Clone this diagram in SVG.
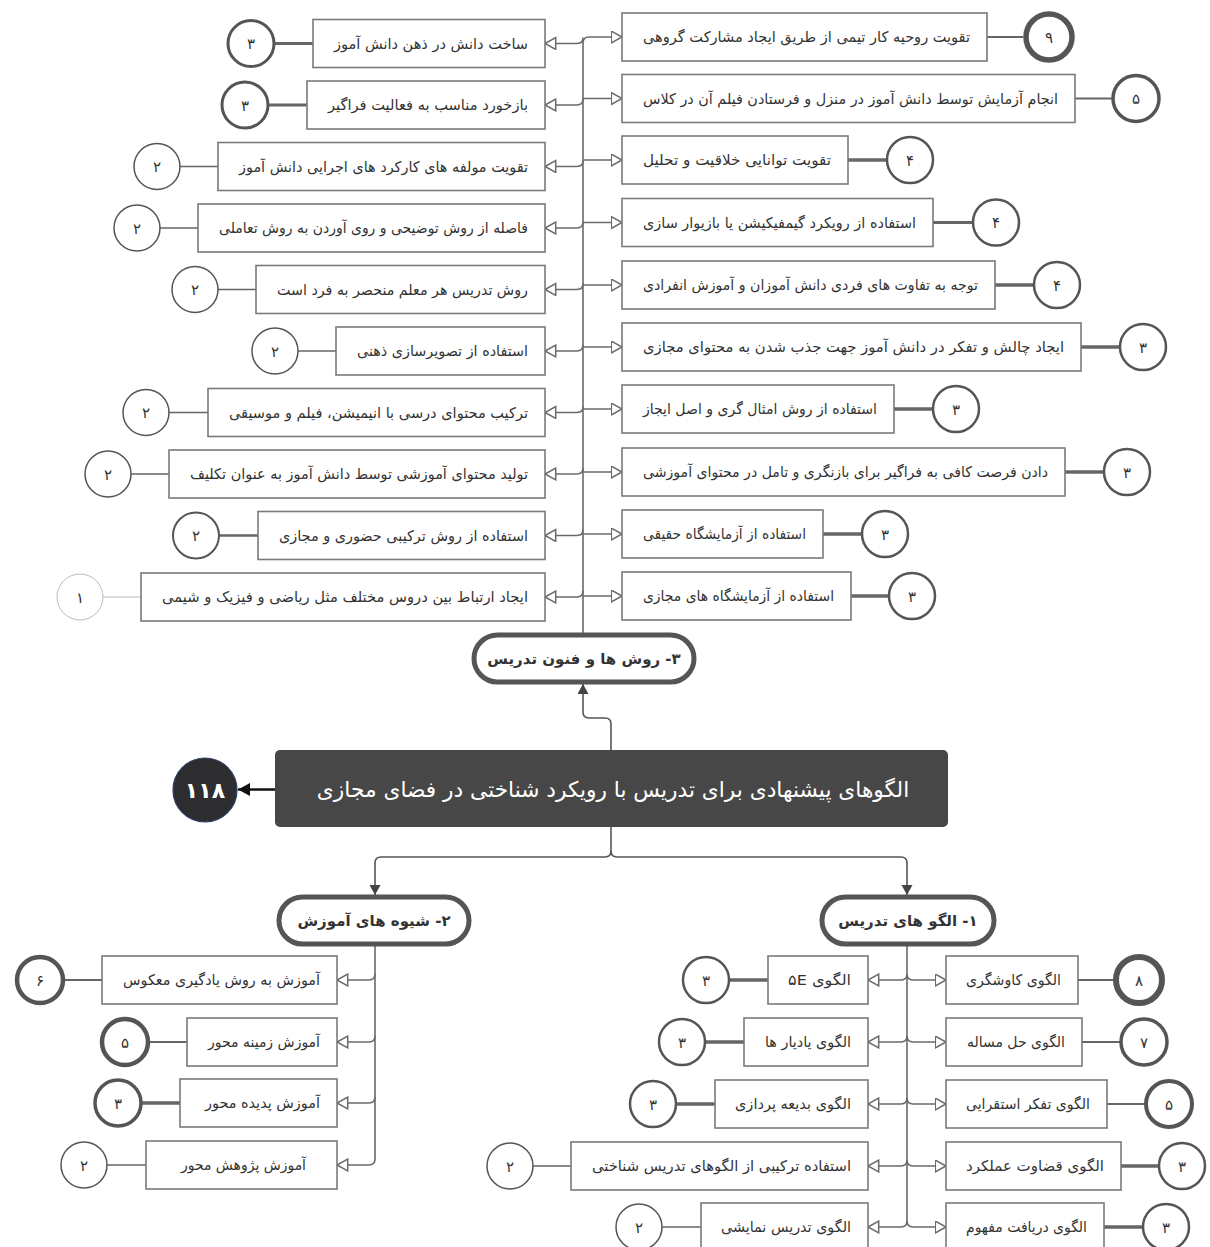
<svg xmlns="http://www.w3.org/2000/svg" width="1210" height="1247" viewBox="0 0 1210 1247">
<style>
.bg{fill:#ffffff}
.box{fill:#ffffff;stroke:#7a7a7a;stroke-width:1.6}
.t{font-family:"DejaVu Sans",sans-serif;font-size:14.7px;fill:#333333;direction:rtl;text-anchor:start}
.num{font-family:"DejaVu Sans",sans-serif;font-size:15px;fill:#333333;text-anchor:middle}
.c{fill:#ffffff;stroke:#555555}
.cl{stroke:#666666;fill:none}
.br{stroke:#6a6a6a;stroke-width:1.6;fill:none;marker-end:url(#open)}
.main{stroke:#555555;stroke-width:1.6;fill:none;marker-end:url(#solid)}
.pill{fill:#ffffff;stroke:#555555;stroke-width:5}
.pt{font-family:"DejaVu Sans",sans-serif;font-size:15px;font-weight:bold;fill:#333333;direction:rtl;text-anchor:middle}
</style>
<defs>
<marker id="open" markerUnits="userSpaceOnUse" markerWidth="14" markerHeight="14" refX="11.5" refY="6.5" orient="auto" viewBox="0 0 14 14">
<path d="M0.8,0.6 L11.5,6.5 L0.8,12.4 z" fill="#ffffff" stroke="#6a6a6a" stroke-width="1.5"/>
</marker>
<marker id="solid" markerUnits="userSpaceOnUse" markerWidth="12" markerHeight="12" refX="10" refY="5.5" orient="auto" viewBox="0 0 12 12">
<path d="M0,0 L10,5.5 L0,11 z" fill="#444444"/>
</marker>
<marker id="solidk" markerUnits="userSpaceOnUse" markerWidth="14" markerHeight="14" refX="12" refY="6.5" orient="auto" viewBox="0 0 14 14">
<path d="M0,0 L12,6.5 L0,13 z" fill="#111111"/>
</marker>
</defs>
<rect class="bg" x="0" y="0" width="1210" height="1247"/>

<g id="connectors">
<path class="br" d="M583,633 V43 Q583,37 589,37 H622"/>
<path class="br" d="M583,98.5 H622"/>
<path class="br" d="M583,160 H622"/>
<path class="br" d="M583,222.5 H622"/>
<path class="br" d="M583,285 H622"/>
<path class="br" d="M583,347 H622"/>
<path class="br" d="M583,409 H622"/>
<path class="br" d="M583,472 H622"/>
<path class="br" d="M583,534 H622"/>
<path class="br" d="M583,596 H622"/>
<path class="br" d="M583,37.5 Q583,43.5 577,43.5 H545"/>
<path class="br" d="M583,99 Q583,105 577,105 H545"/>
<path class="br" d="M583,160.5 Q583,166.5 577,166.5 H545"/>
<path class="br" d="M583,222 Q583,228 577,228 H545"/>
<path class="br" d="M583,283.5 Q583,289.5 577,289.5 H545"/>
<path class="br" d="M583,345 Q583,351 577,351 H545"/>
<path class="br" d="M583,406.5 Q583,412.5 577,412.5 H545"/>
<path class="br" d="M583,468 Q583,474 577,474 H545"/>
<path class="br" d="M583,529.5 Q583,535.5 577,535.5 H545"/>
<path class="br" d="M583,591 Q583,597 577,597 H545"/>
<path class="main" d="M611,750 V724 Q611,718 605,718 H589 Q583,718 583,712 V684"/>
<path d="M275,789.5 H238" stroke="#111111" stroke-width="2.5" fill="none" marker-end="url(#solidk)"/>
<path class="main" d="M611,827 V851 Q611,857 605,857 H381 Q375,857 375,863 V895"/>
<path class="main" d="M611,851 Q611,857 617,857 H901 Q907,857 907,863 V895"/>
<path class="br" d="M375,945 V1159 Q375,1165 369,1165 H337"/>
<path class="br" d="M375,974 Q375,980 369,980 H337"/>
<path class="br" d="M375,1036 Q375,1042 369,1042 H337"/>
<path class="br" d="M375,1097 Q375,1103 369,1103 H337"/>
<path class="br" d="M907,945 V1221 Q907,1227 901,1227 H868"/>
<path class="br" d="M907,974 Q907,980 901,980 H868"/>
<path class="br" d="M907,1036 Q907,1042 901,1042 H868"/>
<path class="br" d="M907,1098 Q907,1104 901,1104 H868"/>
<path class="br" d="M907,1160 Q907,1166 901,1166 H868"/>
<path class="br" d="M907,974 Q907,980 913,980 H946"/>
<path class="br" d="M907,1036 Q907,1042 913,1042 H946"/>
<path class="br" d="M907,1098 Q907,1104 913,1104 H946"/>
<path class="br" d="M907,1160 Q907,1166 913,1166 H946"/>
<path class="br" d="M907,1221 Q907,1227 913,1227 H946"/>
</g>

<g id="n-center">
<rect x="275" y="750" width="673" height="77" rx="5" fill="#474747"/>
<text x="613" y="797" font-family="DejaVu Sans,sans-serif" font-size="21.7" fill="#ffffff" text-anchor="middle" style="direction:rtl">الگوهای پیشنهادی برای تدریس با رویکرد شناختی در فضای مجازی</text>
</g>
<g id="n-total">
<circle cx="205" cy="790" r="32" fill="#2d2d2f" stroke="#2c3e66" stroke-width="1.2"/>
<text x="205" y="798" font-family="DejaVu Sans,sans-serif" font-size="22" font-weight="bold" fill="#ffffff" text-anchor="middle">۱۱۸</text>
</g>

<g id="n3">
<rect class="pill" x="474" y="635" width="220" height="47" rx="23.5"/>
<text class="pt" x="584" y="664">۳- روش ها و فنون تدریس</text>
</g>
<g id="n2">
<rect class="pill" x="279" y="897" width="190" height="47" rx="23.5"/>
<text class="pt" x="374" y="926">۲- شیوه های آموزش</text>
</g>
<g id="n1">
<rect class="pill" x="822" y="897" width="172" height="47" rx="23.5"/>
<text class="pt" x="908" y="926">۱- الگو های تدریس</text>
</g>

<g id="tl1"><line class="cl" x1="274" y1="43.5" x2="313" y2="43.5" stroke-width="3"/><circle class="c" cx="251" cy="43.5" r="23" stroke-width="3"/><text class="num" x="251" y="49">۳</text><rect class="box" x="313" y="19.5" width="232" height="48"/><text class="t" x="528" y="48.5" textLength="194" lengthAdjust="spacingAndGlyphs">ساخت دانش در ذهن دانش آموز</text></g>
<g id="tl2"><line class="cl" x1="268" y1="105" x2="307" y2="105" stroke-width="3"/><circle class="c" cx="245" cy="105" r="23" stroke-width="3"/><text class="num" x="245" y="110.5">۳</text><rect class="box" x="307" y="81" width="238" height="48"/><text class="t" x="528" y="110" textLength="200" lengthAdjust="spacingAndGlyphs">بازخورد مناسب  به فعالیت فراگیر</text></g>
<g id="tl3"><line class="cl" x1="180" y1="166.5" x2="218" y2="166.5" stroke-width="1.5"/><circle class="c" cx="157" cy="166.5" r="23" stroke-width="1.5"/><text class="num" x="157" y="172">۲</text><rect class="box" x="218" y="142.5" width="327" height="48"/><text class="t" x="528" y="171.5" textLength="289" lengthAdjust="spacingAndGlyphs">تقویت مولفه های کارکرد های اجرایی دانش آموز</text></g>
<g id="tl4"><line class="cl" x1="160" y1="228" x2="198" y2="228" stroke-width="1.5"/><circle class="c" cx="137" cy="228" r="23" stroke-width="1.5"/><text class="num" x="137" y="233.5">۲</text><rect class="box" x="198" y="204" width="347" height="48"/><text class="t" x="528" y="233" textLength="309" lengthAdjust="spacingAndGlyphs">فاصله از روش توضیحی و روی آوردن به روش تعاملی</text></g>
<g id="tl5"><line class="cl" x1="218" y1="289.5" x2="256" y2="289.5" stroke-width="1.5"/><circle class="c" cx="195" cy="289.5" r="23" stroke-width="1.5"/><text class="num" x="195" y="295">۲</text><rect class="box" x="256" y="265.5" width="289" height="48"/><text class="t" x="528" y="294.5" textLength="251" lengthAdjust="spacingAndGlyphs">روش تدریس هر معلم منحصر به فرد است</text></g>
<g id="tl6"><line class="cl" x1="298" y1="351" x2="336" y2="351" stroke-width="1.5"/><circle class="c" cx="275" cy="351" r="23" stroke-width="1.5"/><text class="num" x="275" y="356.5">۲</text><rect class="box" x="336" y="327" width="209" height="48"/><text class="t" x="528" y="356" textLength="171" lengthAdjust="spacingAndGlyphs">استفاده از تصویرسازی ذهنی</text></g>
<g id="tl7"><line class="cl" x1="169" y1="412.5" x2="208" y2="412.5" stroke-width="1.5"/><circle class="c" cx="146" cy="412.5" r="23" stroke-width="1.5"/><text class="num" x="146" y="418">۲</text><rect class="box" x="208" y="388.5" width="337" height="48"/><text class="t" x="528" y="417.5" textLength="299" lengthAdjust="spacingAndGlyphs">ترکیب محتوای درسی با انیمیشن، فیلم و موسیقی</text></g>
<g id="tl8"><line class="cl" x1="131" y1="474" x2="169" y2="474" stroke-width="1.5"/><circle class="c" cx="108" cy="474" r="23" stroke-width="1.5"/><text class="num" x="108" y="479.5">۲</text><rect class="box" x="169" y="450" width="376" height="48"/><text class="t" x="528" y="479" textLength="338" lengthAdjust="spacingAndGlyphs">تولید محتوای آموزشی توسط دانش آموز به عنوان تکلیف</text></g>
<g id="tl9"><line class="cl" x1="219" y1="535.5" x2="258" y2="535.5" stroke-width="2.5"/><circle class="c" cx="196" cy="535.5" r="23" stroke-width="2"/><text class="num" x="196" y="541">۲</text><rect class="box" x="258" y="511.5" width="287" height="48"/><text class="t" x="528" y="540.5" textLength="249" lengthAdjust="spacingAndGlyphs">استفاده از روش ترکیبی حضوری و مجازی</text></g>
<g id="tl10"><line x1="103" y1="597" x2="141" y2="597" stroke="#bbbbbb" stroke-width="1"/><circle cx="80" cy="597" r="23" fill="#ffffff" stroke="#bbbbbb" stroke-width="1"/><text class="num" x="80" y="602.5">۱</text><rect class="box" x="141" y="573" width="404" height="48"/><text class="t" x="528" y="602" textLength="366" lengthAdjust="spacingAndGlyphs">ایجاد ارتباط بین دروس مختلف مثل ریاضی و فیزیک و شیمی</text></g>

<g id="tr1"><line class="cl" x1="987" y1="37" x2="1023" y2="37" stroke-width="2"/><circle class="c" cx="1049" cy="37" r="23" stroke-width="5.5"/><text class="num" x="1049" y="42.5">۹</text><rect class="box" x="622" y="13" width="365" height="48"/><text class="t" x="970" y="42" textLength="327" lengthAdjust="spacingAndGlyphs">تقویت روحیه کار تیمی از طریق ایجاد مشارکت گروهی</text></g>
<g id="tr2"><line class="cl" x1="1075" y1="98.5" x2="1113" y2="98.5" stroke-width="2"/><circle class="c" cx="1136" cy="98.5" r="23" stroke-width="3.5"/><text class="num" x="1136" y="104">۵</text><rect class="box" x="622" y="74.5" width="453" height="48"/><text class="t" x="1058" y="103.5" textLength="415" lengthAdjust="spacingAndGlyphs">انجام آزمایش توسط دانش آموز در منزل و فرستادن فیلم آن در کلاس</text></g>
<g id="tr3"><line class="cl" x1="848" y1="160" x2="887" y2="160" stroke-width="3.5"/><circle class="c" cx="910" cy="160" r="23" stroke-width="2.5"/><text class="num" x="910" y="165.5">۴</text><rect class="box" x="622" y="136" width="226" height="48"/><text class="t" x="831" y="165" textLength="188" lengthAdjust="spacingAndGlyphs">تقویت توانایی خلاقیت و تحلیل</text></g>
<g id="tr4"><line class="cl" x1="933" y1="222.5" x2="973" y2="222.5" stroke-width="3"/><circle class="c" cx="996" cy="222.5" r="23" stroke-width="2.5"/><text class="num" x="996" y="228">۴</text><rect class="box" x="622" y="198.5" width="311" height="48"/><text class="t" x="916" y="227.5" textLength="273" lengthAdjust="spacingAndGlyphs">استفاده از رویکرد گیمفیکیشن یا بازیوار سازی</text></g>
<g id="tr5"><line class="cl" x1="995" y1="285" x2="1034" y2="285" stroke-width="3.5"/><circle class="c" cx="1057" cy="285" r="23" stroke-width="2.5"/><text class="num" x="1057" y="290.5">۴</text><rect class="box" x="622" y="261" width="373" height="48"/><text class="t" x="978" y="290" textLength="335" lengthAdjust="spacingAndGlyphs">توجه به تفاوت های فردی دانش آموزان و آموزش انفرادی</text></g>
<g id="tr6"><line class="cl" x1="1081" y1="347" x2="1120" y2="347" stroke-width="3.5"/><circle class="c" cx="1143" cy="347" r="23" stroke-width="2.5"/><text class="num" x="1143" y="352.5">۳</text><rect class="box" x="622" y="323" width="459" height="48"/><text class="t" x="1064" y="352" textLength="421" lengthAdjust="spacingAndGlyphs">ایجاد چالش و تفکر در دانش آموز جهت جذب شدن به محتوای مجازی</text></g>
<g id="tr7"><line class="cl" x1="894" y1="409" x2="933" y2="409" stroke-width="3.5"/><circle class="c" cx="956" cy="409" r="23" stroke-width="2.5"/><text class="num" x="956" y="414.5">۳</text><rect class="box" x="622" y="385" width="272" height="48"/><text class="t" x="877" y="414" textLength="234" lengthAdjust="spacingAndGlyphs">استفاده از روش امثال گری و اصل ایجاز</text></g>
<g id="tr8"><line class="cl" x1="1065" y1="472" x2="1104" y2="472" stroke-width="3.5"/><circle class="c" cx="1127" cy="472" r="23" stroke-width="2.5"/><text class="num" x="1127" y="477.5">۳</text><rect class="box" x="622" y="448" width="443" height="48"/><text class="t" x="1048" y="477" textLength="405" lengthAdjust="spacingAndGlyphs">دادن فرصت کافی به فراگیر برای بازنگری و تامل در محتوای آموزشی</text></g>
<g id="tr9"><line class="cl" x1="823" y1="534" x2="862" y2="534" stroke-width="3.5"/><circle class="c" cx="885" cy="534" r="23" stroke-width="2.5"/><text class="num" x="885" y="539.5">۳</text><rect class="box" x="622" y="510" width="201" height="48"/><text class="t" x="806" y="539" textLength="163" lengthAdjust="spacingAndGlyphs">استفاده از آزمایشگاه حقیقی</text></g>
<g id="tr10"><line class="cl" x1="851" y1="596" x2="889" y2="596" stroke-width="3.5"/><circle class="c" cx="912" cy="596" r="23" stroke-width="2.5"/><text class="num" x="912" y="601.5">۳</text><rect class="box" x="622" y="572" width="229" height="48"/><text class="t" x="834" y="601" textLength="191" lengthAdjust="spacingAndGlyphs">استفاده از آزمایشگاه های مجازی</text></g>

<g id="bl1"><line class="cl" x1="63" y1="980" x2="102" y2="980" stroke-width="2"/><circle class="c" cx="40" cy="980" r="23" stroke-width="4.5"/><text class="num" x="40" y="985.5">۶</text><rect class="box" x="102" y="956" width="235" height="48"/><text class="t" x="320" y="985" textLength="197" lengthAdjust="spacingAndGlyphs">آموزش به روش یادگیری معکوس</text></g>
<g id="bl2"><line class="cl" x1="148" y1="1042" x2="187" y2="1042" stroke-width="2"/><circle class="c" cx="125" cy="1042" r="23" stroke-width="4.5"/><text class="num" x="125" y="1047.5">۵</text><rect class="box" x="187" y="1018" width="150" height="48"/><text class="t" x="320" y="1047" textLength="112" lengthAdjust="spacingAndGlyphs">آموزش زمینه محور</text></g>
<g id="bl3"><line class="cl" x1="141" y1="1103" x2="180" y2="1103" stroke-width="3.5"/><circle class="c" cx="118" cy="1103" r="23" stroke-width="3.5"/><text class="num" x="118" y="1108.5">۳</text><rect class="box" x="180" y="1079" width="157" height="48"/><text class="t" x="320" y="1108" textLength="115" lengthAdjust="spacingAndGlyphs">آموزش پدیده محور</text></g>
<g id="bl4"><line class="cl" x1="107" y1="1165" x2="146" y2="1165" stroke-width="1.5"/><circle class="c" cx="84" cy="1165" r="23" stroke-width="1.5"/><text class="num" x="84" y="1170.5">۲</text><rect class="box" x="146" y="1141" width="191" height="48"/><text class="t" x="306" y="1170" textLength="125" lengthAdjust="spacingAndGlyphs">آموزش پژوهش محور</text></g>

<g id="br1"><line class="cl" x1="1078" y1="980" x2="1116" y2="980" stroke-width="2"/><circle class="c" cx="1139" cy="980" r="23" stroke-width="6"/><text class="num" x="1139" y="985.5">۸</text><rect class="box" x="946" y="956" width="132" height="48"/><text class="t" x="1061" y="985" textLength="95" lengthAdjust="spacingAndGlyphs">الگوی کاوشگری</text></g>
<g id="br2"><line class="cl" x1="1082" y1="1042" x2="1121" y2="1042" stroke-width="2"/><circle class="c" cx="1144" cy="1042" r="23" stroke-width="3.5"/><text class="num" x="1144" y="1047.5">۷</text><rect class="box" x="946" y="1018" width="136" height="48"/><text class="t" x="1065" y="1047" textLength="98" lengthAdjust="spacingAndGlyphs">الگوی حل مساله</text></g>
<g id="br3"><line class="cl" x1="1107" y1="1104" x2="1146" y2="1104" stroke-width="2"/><circle class="c" cx="1169" cy="1104" r="23" stroke-width="4"/><text class="num" x="1169" y="1109.5">۵</text><rect class="box" x="946" y="1080" width="161" height="48"/><text class="t" x="1090" y="1109" textLength="124" lengthAdjust="spacingAndGlyphs">الگوی تفکر استقرایی</text></g>
<g id="br4"><line class="cl" x1="1121" y1="1166" x2="1159" y2="1166" stroke-width="3.5"/><circle class="c" cx="1182" cy="1166" r="23" stroke-width="2.5"/><text class="num" x="1182" y="1171.5">۳</text><rect class="box" x="946" y="1142" width="175" height="48"/><text class="t" x="1104" y="1171" textLength="138" lengthAdjust="spacingAndGlyphs">الگوی قضاوت عملکرد</text></g>
<g id="br5"><line class="cl" x1="1104" y1="1227" x2="1143" y2="1227" stroke-width="3.5"/><circle class="c" cx="1166" cy="1227" r="23" stroke-width="2.5"/><text class="num" x="1166" y="1232.5">۳</text><rect class="box" x="946" y="1203" width="158" height="48"/><text class="t" x="1087" y="1232" textLength="121" lengthAdjust="spacingAndGlyphs">الگوی دریافت مفهوم</text></g>

<g id="bm1"><line class="cl" x1="729" y1="980" x2="768" y2="980" stroke-width="3.5"/><circle class="c" cx="706" cy="980" r="23" stroke-width="2.5"/><text class="num" x="706" y="985.5">۳</text><rect class="box" x="768" y="956" width="100" height="48"/><text class="t" x="851" y="985" textLength="63" lengthAdjust="spacingAndGlyphs">الگوی ۵E</text></g>
<g id="bm2"><line class="cl" x1="705" y1="1042" x2="744" y2="1042" stroke-width="3.5"/><circle class="c" cx="682" cy="1042" r="23" stroke-width="2.5"/><text class="num" x="682" y="1047.5">۳</text><rect class="box" x="744" y="1018" width="124" height="48"/><text class="t" x="851" y="1047" textLength="86" lengthAdjust="spacingAndGlyphs">الگوی یادیار ها</text></g>
<g id="bm3"><line class="cl" x1="676" y1="1104" x2="715" y2="1104" stroke-width="3.5"/><circle class="c" cx="653" cy="1104" r="23" stroke-width="2.5"/><text class="num" x="653" y="1109.5">۳</text><rect class="box" x="715" y="1080" width="153" height="48"/><text class="t" x="851" y="1109" textLength="116" lengthAdjust="spacingAndGlyphs">الگوی بدیعه پردازی</text></g>
<g id="bm4"><line class="cl" x1="533" y1="1166" x2="571" y2="1166" stroke-width="1.5"/><circle class="c" cx="510" cy="1166" r="23" stroke-width="1.5"/><text class="num" x="510" y="1171.5">۲</text><rect class="box" x="571" y="1142" width="297" height="48"/><text class="t" x="851" y="1171" textLength="259" lengthAdjust="spacingAndGlyphs">استفاده ترکیبی از الگوهای تدریس شناختی</text></g>
<g id="bm5"><line class="cl" x1="662" y1="1227" x2="701" y2="1227" stroke-width="1.5"/><circle class="c" cx="639" cy="1227" r="23" stroke-width="1.5"/><text class="num" x="639" y="1232.5">۲</text><rect class="box" x="701" y="1203" width="167" height="48"/><text class="t" x="851" y="1232" textLength="130" lengthAdjust="spacingAndGlyphs">الگوی تدریس نمایشی</text></g>
</svg>
